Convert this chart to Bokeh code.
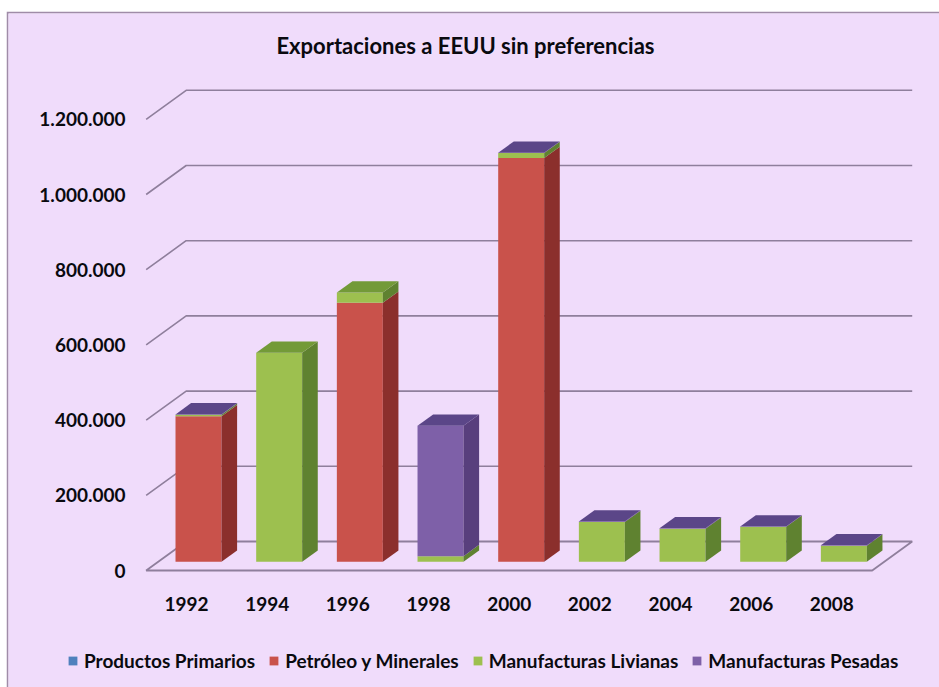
from bokeh.embed import file_html
from bokeh.resources import INLINE
from bokeh.models import Legend, LegendItem, FixedTicker, Range1d, Label
from bokeh.plotting import figure

# ---- data ----
title = "Exportaciones a EEUU sin preferencias"
years = ["1992", "1994", "1996", "1998", "2000", "2002", "2004", "2006", "2008"]
primarios = [0, 0, 0, 0, 0, 0, 0, 0, 0]
petroleo = [387000, 0, 689000, 0, 1074000, 0, 0, 0, 0]
livianas = [4000, 556000, 27000, 15000, 13000, 106000, 88000, 93000, 43000]
pesadas = [1000, 0, 0, 347000, 1000, 1000, 1000, 1000, 1000]
y_ticks = [0, 200000, 400000, 600000, 800000, 1000000, 1200000]
y_labels = ["0", "200.000", "400.000", "600.000", "800.000", "1.000.000", "1.200.000"]

series = [
    ("Productos Primarios", primarios, "#4f81bd", "#375a85", "#3f6797"),
    ("Petróleo y Minerales", petroleo, "#c9524b", "#8b2f2c", "#a03c38"),
    ("Manufacturas Livianas", livianas, "#9dc04f", "#5f8230", "#739a38"),
    ("Manufacturas Pesadas", pesadas, "#7e60a8", "#583f7d", "#5b4688"),
]

PANEL = "#f0dcfb"
EDGE = "#a08ca8"
GRID = "#8f7f9c"
INK = "#0a0a0f"
FONT = "Lato"

# 3D projection: one full floor depth shifts by these data amounts
DX = 0.496
DY = 77100
D1, D2 = 0.30, 0.69      # bar spans this part of the floor depth
HALF = 0.285             # half bar width in category units

p = figure(width=933, height=676, output_backend="svg", toolbar_location=None,
           x_range=Range1d(-2.2065, 9.3343), y_range=Range1d(-311170, 1481383),
           min_border_left=2, min_border_right=0, min_border_top=2, min_border_bottom=0,
           background_fill_color=PANEL, border_fill_color=EDGE, outline_line_color=None,
           margin=(11, 0, 0, 6))
p.grid.visible = False

p.add_layout(Label(x=3.458, y=1396000, text=title, text_align="center", text_baseline="middle",
                   text_font=FONT, text_font_size="22px", text_font_style="bold", text_color=INK))

n = len(years)
x_left, x_right = -0.5, n - 0.5

# back wall + left wall grid lines
gx = [[x_left, x_left + DX, x_right + DX] for _ in y_ticks[1:]]
gy = [[v, v + DY, v + DY] for v in y_ticks[1:]]
p.multi_line(gx, gy, line_color=GRID, line_width=1.6)
# floor outline
p.line([x_left + DX, x_left, x_right, x_right + DX, x_left + DX], [DY, 0, 0, DY, DY],
       line_color=GRID, line_width=1.8)

front_renderers = []
bottom = [0] * n
top_series = []
for i in range(n):
    top = None
    for s in series:
        if s[1][i] > 0:
            top = s
    top_series.append(top)

for name, vals, c_front, c_side, c_top in series:
    fx, fy, sx, sy, tx, ty = [], [], [], [], [], []
    for i in range(n):
        v0, v1 = bottom[i], bottom[i] + vals[i]
        xl = i + D1 * DX - HALF
        xr = i + D1 * DX + HALF
        dx = (D2 - D1) * DX
        dy = (D2 - D1) * DY
        yb = v0 + D1 * DY
        yt = v1 + D1 * DY
        fx.append([xl, xr, xr, xl])
        fy.append([yb, yb, yt, yt])
        sx.append([xr, xr + dx, xr + dx, xr])
        sy.append([yb, yb + dy, yt + dy, yt])
        if top_series[i] is not None and top_series[i][0] == name:
            tx.append([xl, xr, xr + dx, xl + dx])
            ty.append([yt, yt, yt + dy, yt + dy])
        bottom[i] = v1
    r = p.patches(fx, fy, fill_color=c_front, line_color=None)
    p.patches(sx, sy, fill_color=c_side, line_color=None)
    p.patches(tx, ty, fill_color=c_top, line_color=None)
    front_renderers.append((name, r))

# axes
p.yaxis.ticker = FixedTicker(ticks=y_ticks)
p.yaxis.major_label_overrides = dict(zip(y_ticks, y_labels))
p.xaxis.ticker = FixedTicker(ticks=list(range(n)))
p.xaxis.major_label_overrides = dict(zip(range(n), years))
p.yaxis[0].fixed_location = -0.632
p.xaxis[0].fixed_location = -53191
for ax in (p.xaxis[0], p.yaxis[0]):
    ax.axis_line_color = None
    ax.major_tick_line_color = None
    ax.minor_tick_line_color = None
    ax.major_tick_out = 0
    ax.major_tick_in = 0
    ax.major_label_text_font = FONT
    ax.major_label_text_font_style = "bold"
    ax.major_label_text_font_size = "19px"
    ax.major_label_text_color = INK
p.yaxis[0].major_label_standoff = 10
p.xaxis[0].major_label_standoff = 7

legend = Legend(items=[LegendItem(label=nm, renderers=[r]) for nm, r in front_renderers],
                orientation="horizontal", location=(59, 15),
                border_line_color=None, background_fill_alpha=0,
                glyph_width=11, glyph_height=11, label_standoff=6, spacing=13, padding=0, margin=0,
                label_text_font=FONT, label_text_font_style="bold", label_text_font_size="19px",
                label_text_color=INK)
p.add_layout(legend, "center")

open("out.html", "w").write(file_html(p, INLINE))
